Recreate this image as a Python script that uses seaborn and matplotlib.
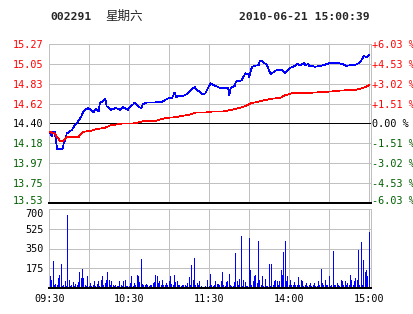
import matplotlib
matplotlib.use("Agg")
import matplotlib.pyplot as plt
import matplotlib.transforms as mtransforms
import seaborn as sns

# ---------------- data ----------------
price_min = [0, 2, 3, 4, 5, 6, 10, 11, 12, 13, 15, 17, 19, 22, 24, 26, 29, 31, 33, 35,
             37, 38, 40, 42, 43, 46, 48, 50, 53, 55, 59, 61, 63, 64, 66, 67, 69, 70, 73, 76,
             79, 82, 84, 87, 90, 92, 94, 95, 97, 100, 103, 105, 109, 111, 113, 115, 117, 119, 121, 123,
             125, 128, 132, 134, 135, 136, 139, 140, 144, 146, 147, 149, 150, 151, 152, 154, 157, 158, 160, 163,
             164, 166, 167, 170, 172, 175, 177, 179, 181, 184, 186, 188, 190, 191, 192, 194, 195, 197, 199, 203,
             206, 208, 210, 213, 217, 220, 223, 226, 229, 232, 234, 236, 238, 240]
price_val = [14.31, 14.26, 14.31, 14.31, 14.21, 14.12, 14.12, 14.20, 14.21, 14.29, 14.31, 14.33, 14.38, 14.43, 14.48, 14.54, 14.57, 14.55, 14.52, 14.56,
             14.53, 14.63, 14.64, 14.67, 14.59, 14.55, 14.56, 14.57, 14.55, 14.58, 14.55, 14.59, 14.61, 14.63, 14.60, 14.58, 14.57, 14.61, 14.63, 14.63,
             14.63, 14.64, 14.63, 14.66, 14.68, 14.68, 14.74, 14.69, 14.70, 14.70, 14.72, 14.75, 14.80, 14.76, 14.75, 14.72, 14.73, 14.79, 14.84, 14.82,
             14.81, 14.79, 14.79, 14.79, 14.71, 14.79, 14.81, 14.86, 14.87, 14.92, 14.95, 14.94, 14.91, 14.97, 15.02, 15.03, 15.04, 15.09, 15.08, 15.04,
             15.01, 14.94, 14.95, 14.98, 14.99, 14.98, 14.95, 14.99, 15.01, 15.03, 15.05, 15.04, 15.05, 15.06, 15.04, 15.05, 15.03, 15.03, 15.02, 15.03,
             15.04, 15.05, 15.06, 15.06, 15.06, 15.05, 15.03, 15.04, 15.04, 15.06, 15.09, 15.14, 15.12, 15.15]

avg_min = [0, 4, 6, 8, 10, 11, 13, 22, 23, 26, 31, 36, 41, 46, 51, 55, 63, 66, 72, 80, 87, 95,
           106, 110, 117, 122, 130, 140, 147, 151, 157, 166, 173, 177, 182, 188, 200, 211, 218, 230, 233, 237, 240]
avg_val = [14.31, 14.29, 14.25, 14.21, 14.21, 14.22, 14.25, 14.25, 14.28, 14.31, 14.32, 14.34, 14.35, 14.38, 14.39, 14.40, 14.40, 14.41, 14.43, 14.43, 14.46, 14.47,
           14.50, 14.52, 14.52, 14.53, 14.53, 14.56, 14.59, 14.62, 14.64, 14.67, 14.68, 14.71, 14.73, 14.73, 14.74, 14.75, 14.76, 14.77, 14.78, 14.80, 14.82]

volume = [65, 109, 74, 242, 30, 38, 30, 88, 118, 215,
          20, 30, 59, 15, 643, 68, 20, 30, 56, 15,
          38, 30, 50, 139, 88, 171, 88, 30, 15, 109,
          20, 44, 15, 30, 65, 15, 38, 59, 20, 74,
          103, 30, 44, 74, 139, 74, 30, 59, 30, 20,
          30, 15, 20, 59, 30, 15, 59, 74, 20, 15,
          15, 44, 109, 15, 44, 30, 118, 109, 50, 260,
          38, 30, 30, 35, 30, 15, 30, 30, 44, 50,
          118, 103, 44, 59, 30, 74, 30, 30, 44, 30,
          65, 109, 38, 30, 118, 50, 59, 30, 30, 20,
          30, 30, 30, 15, 44, 97, 30, 206, 74, 266,
          30, 44, 30, 59, 20, 10, 10, 20, 10, 74,
          20, 127, 30, 20, 30, 59, 38, 38, 30, 59,
          139, 30, 20, 50, 59, 127, 30, 15, 20, 50,
          313, 59, 30, 80, 463, 20, 74, 50, 20, 20,
          443, 162, 30, 59, 103, 118, 44, 419, 74, 30,
          109, 20, 83, 20, 20, 215, 20, 215, 30, 59,
          74, 65, 30, 59, 162, 118, 316, 419, 59, 103,
          30, 74, 30, 30, 50, 30, 30, 97, 30, 74,
          59, 20, 30, 44, 20, 30, 44, 20, 30, 44,
          15, 20, 59, 30, 171, 44, 30, 74, 30, 30,
          103, 20, 30, 325, 30, 30, 44, 30, 20, 74,
          59, 30, 59, 30, 44, 30, 118, 74, 30, 59,
          88, 74, 339, 30, 404, 30, 251, 139, 156, 103,
          499]
vol_min = list(range(len(volume)))

price_ticks = [15.27, 15.0525, 14.835, 14.6175, 14.40, 14.1825, 13.965, 13.7475, 13.53]
price_labels = ["15.27", "15.05", "14.83", "14.62", "14.40", "14.18", "13.97", "13.75", "13.53"]
pct_labels = ["+6.03 %", "+4.53 %", "+3.02 %", "+1.51 %", "0.00 %", "-1.51 %", "-3.02 %", "-4.53 %", "-6.03 %"]
vol_ticks = [175, 350, 525, 700]
vol_labels = ["175", "350", "525", "700"]
time_ticks = [0, 30, 60, 90, 120, 150, 180, 210, 240]
time_labels = ["09:30", "", "10:30", "", "11:30", "", "14:00", "", "15:00"]
prev_close = 14.40

# ---------------- style ----------------
sns.set_style("white")
plt.rcParams['font.family'] = ['DejaVu Sans Mono', 'Noto Sans CJK SC']

RED = "#ff0000"
GREEN = "#006000"
GRID = "#c0c0c0"
W, H = 414, 314
PX = 0.72  # one pixel in points

fig = plt.figure(figsize=(W / 100, H / 100), dpi=100)
fig.patch.set_facecolor("white")


def box(l, t, r, b):
    return [l / W, 1 - b / H, (r - l) / W, (b - t) / H]


def shift(label, dy_px):
    label.set_transform(label.get_transform() +
                        mtransforms.ScaledTranslation(0, dy_px / 100, fig.dpi_scale_trans))


def tick_color(v):
    if abs(v - prev_close) < 1e-6:
        return "black"
    return RED if v > prev_close else GREEN


ax = fig.add_axes(box(49.3, 44, 371, 203))
axv = fig.add_axes(box(49.3, 209, 371, 288))

XMAX = 241.25

# price panel
sns.lineplot(x=price_min, y=price_val, ax=ax, color="#0000ff", linewidth=0.5, antialiased=False, zorder=3)
sns.lineplot(x=avg_min, y=avg_val, ax=ax, color=RED, linewidth=0.5, antialiased=False, zorder=3)
ax.set_xlim(0, XMAX)
ax.set_ylim(price_ticks[-1], price_ticks[0])
ax.set_xticks(time_ticks)
ax.set_xticklabels([])
ax.set_yticks(price_ticks)
ax.set_yticklabels(price_labels)
ax.grid(True, color=GRID, linewidth=PX)
ax.axhline(prev_close, color="black", linewidth=PX, zorder=2, antialiased=False)
ax.tick_params(axis="both", length=0)
ax.tick_params(axis="y", pad=4, labelsize=7.3)
for lab, v in zip(ax.get_yticklabels(), price_ticks):
    lab.set_color(tick_color(v))
shift(ax.get_yticklabels()[-1], 3)
for s in ["left", "top", "right"]:
    ax.spines[s].set_color(GRID)
    ax.spines[s].set_linewidth(PX)
ax.spines["bottom"].set_color("black")
ax.spines["bottom"].set_linewidth(2 * PX)
ax.set_xlabel("")
ax.set_ylabel("")

axr = ax.twinx()
axr.set_ylim(ax.get_ylim())
axr.set_yticks(price_ticks)
axr.set_yticklabels(pct_labels)
axr.tick_params(axis="y", length=0, pad=0.5, labelsize=7.3)
for lab, v in zip(axr.get_yticklabels(), price_ticks):
    lab.set_color(tick_color(v))
shift(axr.get_yticklabels()[-1], 3)
for s in axr.spines.values():
    s.set_visible(False)

# volume panel
sns.barplot(x=vol_min, y=volume, ax=axv, native_scale=True, color="#0000ff", saturation=1,
            width=0.75, errorbar=None, linewidth=0, antialiased=False)
axv.set_xlim(0, XMAX)
axv.set_ylim(0, 700)
axv.set_xticks(time_ticks)
axv.set_xticklabels(time_labels)
axv.set_yticks(vol_ticks)
axv.set_yticklabels(vol_labels)
axv.grid(True, color=GRID, linewidth=PX)
axv.set_axisbelow(True)
axv.tick_params(axis="both", length=0, labelsize=7.3, colors="black")
axv.tick_params(axis="y", pad=4)
axv.tick_params(axis="x", pad=4)
shift(axv.get_yticklabels()[-1], -4)
for s in ["left", "top", "right"]:
    axv.spines[s].set_color(GRID)
    axv.spines[s].set_linewidth(PX)
axv.spines["bottom"].set_color("black")
axv.spines["bottom"].set_linewidth(2 * PX)
axv.set_xlabel("")
axv.set_ylabel("")

# header
fig.text(50 / W, 1 - 16.5 / H, "002291", fontsize=8.2, fontweight="bold", va="center", ha="left",
         family=["DejaVu Sans Mono"])
fig.text(105 / W, 1 - 16.5 / H, "星期六", fontsize=9, va="center", ha="left",
         family=["Noto Sans CJK SC", "DejaVu Sans"])
fig.text(370 / W, 1 - 16.5 / H, "2010-06-21 15:00:39", fontsize=8.2, fontweight="bold", va="center",
         ha="right", family=["DejaVu Sans Mono"])

fig.savefig("out.png", dpi=100, facecolor="white")
